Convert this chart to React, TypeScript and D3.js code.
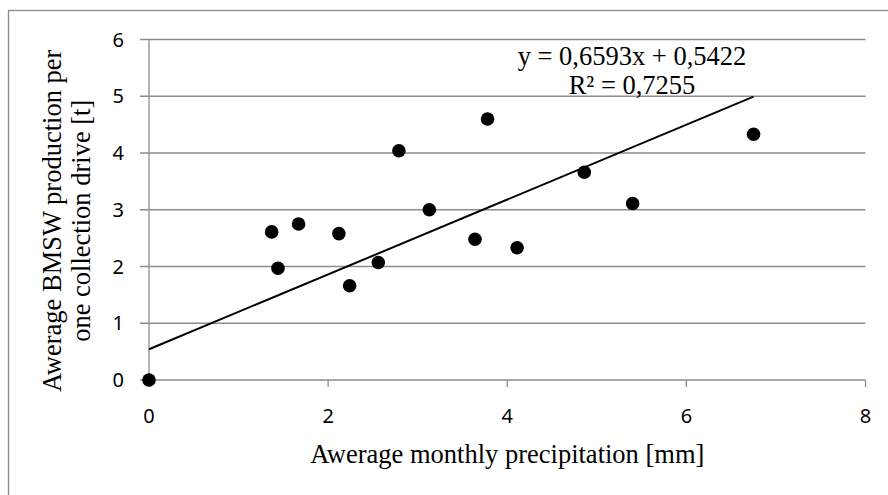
import React, { useRef, useEffect } from "react";
import * as d3 from "d3";

// average monthly precipitation [mm] and BMSW production [t] per point
const precipitation = [0, 1.37, 1.44, 1.67, 2.12, 2.24, 2.56, 2.79, 3.13, 3.64, 3.78, 4.11, 4.86, 5.4, 6.75];
const production = [0, 2.61, 1.97, 2.75, 2.58, 1.66, 2.07, 4.04, 3.0, 2.48, 4.6, 2.33, 3.66, 3.11, 4.33];
const xTicks = [0, 2, 4, 6, 8];
const yTicks = [0, 1, 2, 3, 4, 5, 6];
const slope = 0.6593;
const intercept = 0.5422;
const equationLines = ["y = 0,6593x + 0,5422", "R² = 0,7255"];
const xTitle = "Awerage monthly precipitation [mm]";
const yTitleLines = ["Awerage BMSW production per", "one collection drive [t]"];

const width = 888;
const height = 495;
const margin = { left: 149, right: 22, top: 39.5, bottom: 115 };
const gridColor = "#8c8c8c";
const serif = "'Liberation Serif', 'Times New Roman', serif";
const sans = "'Noto Sans', 'Open Sans', sans-serif";

const App = () => {
	const svgRef = useRef();

	useEffect(() => {
		const svg = d3.select(svgRef.current);
		svg.selectAll("*").remove();

		const x = d3
			.scaleLinear()
			.domain([0, 8])
			.range([margin.left, width - margin.right - 0.5]);
		const y = d3
			.scaleLinear()
			.domain([0, 6])
			.range([height - margin.bottom, margin.top]);

		// outer chart border (runs off the right and bottom edge)
		svg.append("rect")
			.attr("x", 8.5)
			.attr("y", 10.5)
			.attr("width", 1000)
			.attr("height", 1000)
			.attr("fill", "white")
			.attr("stroke", gridColor)
			.attr("stroke-width", 1.3);

		// horizontal gridlines incl. small tick stubs left of the axis
		svg.append("g")
			.selectAll("line")
			.data(yTicks)
			.join("line")
			.attr("x1", x(0) - 9)
			.attr("x2", x(8))
			.attr("y1", (d) => y(d))
			.attr("y2", (d) => y(d))
			.attr("stroke", gridColor)
			.attr("stroke-width", 1.3);

		// y axis line
		svg.append("line")
			.attr("x1", x(0))
			.attr("x2", x(0))
			.attr("y1", y(6))
			.attr("y2", y(0) + 7)
			.attr("stroke", gridColor)
			.attr("stroke-width", 1.3);

		// x tick marks
		svg.append("g")
			.selectAll("line")
			.data(xTicks)
			.join("line")
			.attr("x1", (d) => x(d))
			.attr("x2", (d) => x(d))
			.attr("y1", y(0))
			.attr("y2", y(0) + 7)
			.attr("stroke", gridColor)
			.attr("stroke-width", 1.3);

		// tick labels
		svg.append("g")
			.selectAll("text")
			.data(yTicks)
			.join("text")
			.attr("x", 124)
			.attr("y", (d) => y(d))
			.attr("dy", "0.36em")
			.attr("text-anchor", "end")
			.attr("font-family", sans)
			.attr("font-size", 20)
			.attr("fill", "black")
			.text((d) => d);

		svg.append("g")
			.selectAll("text")
			.data(xTicks)
			.join("text")
			.attr("x", (d) => x(d))
			.attr("y", 422.5)
			.attr("text-anchor", "middle")
			.attr("font-family", sans)
			.attr("font-size", 20)
			.attr("fill", "black")
			.text((d) => d);

		// trend line across the data range
		const xMin = d3.min(precipitation);
		const xMax = d3.max(precipitation);
		svg.append("line")
			.attr("x1", x(xMin))
			.attr("y1", y(slope * xMin + intercept))
			.attr("x2", x(xMax))
			.attr("y2", y(slope * xMax + intercept))
			.attr("stroke", "black")
			.attr("stroke-width", 2);

		// points
		svg.append("g")
			.selectAll("circle")
			.data(precipitation)
			.join("circle")
			.attr("cx", (d) => x(d))
			.attr("cy", (d, i) => y(production[i]))
			.attr("r", 6.8)
			.attr("fill", "black");

		// regression label
		svg.append("g")
			.selectAll("text")
			.data(equationLines)
			.join("text")
			.attr("x", 632)
			.attr("y", (d, i) => 65 + i * 28.5)
			.attr("text-anchor", "middle")
			.attr("font-family", serif)
			.attr("font-size", 26.5)
			.attr("fill", "black")
			.text((d) => d);

		// axis titles
		svg.append("text")
			.attr("x", (x(0) + x(8)) / 2)
			.attr("y", 463)
			.attr("text-anchor", "middle")
			.attr("font-family", serif)
			.attr("font-size", 26.5)
			.attr("fill", "black")
			.text(xTitle);

		const cy = (y(0) + y(6)) / 2 + 11;
		svg.append("g")
			.selectAll("text")
			.data(yTitleLines)
			.join("text")
			.attr("transform", (d, i) => `translate(${61 + i * 29},${cy}) rotate(-90)`)
			.attr("text-anchor", "middle")
			.attr("font-family", serif)
			.attr("font-size", 26.5)
			.attr("fill", "black")
			.text((d) => d);
	}, []);

	return (
		<svg
			ref={svgRef}
			width={width}
			height={height}
			style={{ position: "absolute", top: 0, left: 0, display: "block", background: "white" }}
		/>
	);
};

export default App;
